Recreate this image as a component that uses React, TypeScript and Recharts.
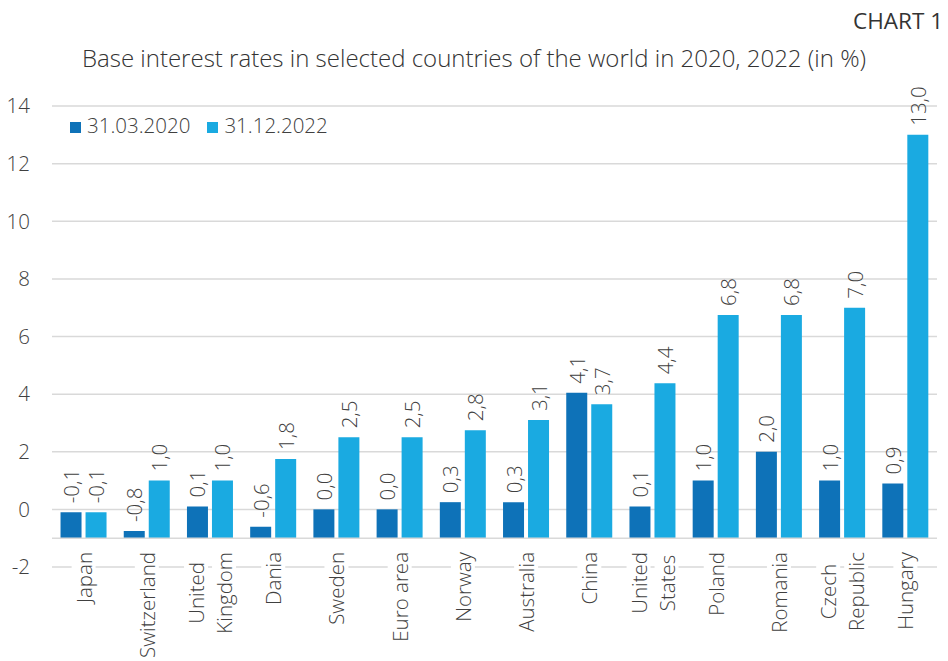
import { BarChart, Bar, XAxis, YAxis, CartesianGrid, LabelList, ReferenceLine } from 'recharts'

// Categories (multi-line labels split by \n)
const countries = [
  'Japan', 'Switzerland', 'United\nKingdom', 'Dania', 'Sweden', 'Euro area', 'Norway',
  'Australia', 'China', 'United\nStates', 'Poland', 'Romania', 'Czech\nRepublic', 'Hungary',
]
const rates2020 = [-0.1, -0.75, 0.1, -0.6, 0.0, 0.0, 0.25, 0.25, 4.05, 0.1, 1.0, 2.0, 1.0, 0.9]
const rates2022 = [-0.1, 1.0, 1.0, 1.75, 2.5, 2.5, 2.75, 3.1, 3.65, 4.375, 6.75, 6.75, 7.0, 13.0]
const yTicks = [-2, 0, 2, 4, 6, 8, 10, 12, 14]
const seriesNames = ['31.03.2020', '31.12.2022']

// bars in the original grow from the category axis, which sits at -1
const AXIS_BASE = -1

const DARK = '#0e72b8'
const LIGHT = '#1aaae1'
const TEXT = '#404040'
const FONT = "'Open Sans', sans-serif"
const W = 300
const FS = 20.5

const data = countries.map((name, i) => ({
  name,
  v2020: rates2020[i],
  v2022: rates2022[i],
}))

const fmt = (v: number) => {
  const s = Math.sign(v)
  const r = (Math.round(Math.abs(v) * 10 + 1e-9) / 10) * (s < 0 ? -1 : 1)
  return r.toFixed(1).replace('.', ',')
}

let ctx: CanvasRenderingContext2D | null = null
const measure = (t: string) => {
  if (!ctx) ctx = document.createElement('canvas').getContext('2d')
  if (!ctx) return t.length * 10
  ctx.font = `${W} ${FS}px ${FONT}`
  return ctx.measureText(t).width
}

const ValueLabel = (props: any) => {
  const { x, y, width, value } = props
  const cx = x + width / 2
  const ty = y - 9
  return (
    <text
      x={cx}
      y={ty}
      transform={`rotate(-90 ${cx} ${ty})`}
      textAnchor="start"
      dominantBaseline="central"
      fontSize={FS}
      fontWeight={W}
      fontFamily={FONT}
      fill={TEXT}
    >
      {fmt(value)}
    </text>
  )
}

const CategoryTick = (props: any) => {
  const { x, y, payload } = props
  const lines: string[] = String(payload.value).split('\n')
  const top = y - 23
  const lineGap = 28
  const maxW = Math.max(...lines.map(measure))
  const cy = top + maxW / 2
  return (
    <g>
      {lines.map((ln, i) => {
        const lx = x + (i - (lines.length - 1) / 2) * lineGap
        const w = measure(ln)
        return (
          <g key={i}>
            <rect x={lx - 12} y={cy - w / 2 - 4} width={24} height={w + 8} fill="#ffffff" />
            <text
              x={lx}
              y={cy}
              transform={`rotate(-90 ${lx} ${cy})`}
              textAnchor="middle"
              dominantBaseline="central"
              fontSize={FS}
              fontWeight={W}
              fontFamily={FONT}
              fill={TEXT}
            >
              {ln}
            </text>
          </g>
        )
      })}
    </g>
  )
}

const App = () => {
  return (
    <div style={{ position: 'absolute', left: 0, top: 0, width: 948, height: 661, background: '#fff', fontFamily: FONT }}>
      <div style={{ position: 'absolute', right: 5, top: 5, fontSize: 22.5, fontWeight: 400, color: '#333', lineHeight: 'normal' }}>
        CHART 1
      </div>
      <div
        style={{
          position: 'absolute', left: 0, width: 948, top: 41, textAlign: 'center',
          fontSize: 24, fontWeight: W, color: '#333', lineHeight: 'normal',
        }}
      >
        Base interest rates in selected countries of the world in 2020, 2022 (in %)
      </div>
      <div
        style={{
          position: 'absolute', left: 70, top: 111, display: 'flex', alignItems: 'center',
          fontSize: FS, fontWeight: W, color: TEXT, zIndex: 2, lineHeight: 'normal',
        }}
      >
        {seriesNames.map((n, i) => (
          <span key={n} style={{ display: 'flex', alignItems: 'center', marginRight: 17 }}>
            <span
              style={{
                width: 11, height: 11, background: i === 0 ? DARK : LIGHT,
                marginRight: 6, position: 'relative', top: 2,
              }}
            />
            {n}
          </span>
        ))}
      </div>
      <BarChart
        width={948}
        height={661}
        data={data}
        margin={{ top: 106, right: 11, left: 0, bottom: 0 }}
        barCategoryGap="13.5%"
        barGap={4}
      >
        <CartesianGrid vertical={false} stroke="#d9d9d9" strokeWidth={1.5} />
        <YAxis
          domain={[-2, 14]}
          ticks={yTicks}
          width={52}
          axisLine={false}
          tickLine={false}
          tickSize={0}
          tickMargin={22}
          tickFormatter={(v: number) => String(v)}
          tick={{ fontSize: FS, fontWeight: W, fontFamily: FONT, fill: TEXT }}
        />
        <XAxis
          dataKey="name"
          height={94}
          axisLine={false}
          tickLine={false}
          interval={0}
          tick={<CategoryTick />}
        />
        <ReferenceLine y={AXIS_BASE} stroke="#d9d9d9" strokeWidth={1.5} />
        <Bar dataKey={(d: any) => [AXIS_BASE, d.v2020]} fill={DARK} isAnimationActive={false}>
          <LabelList dataKey="v2020" content={<ValueLabel />} />
        </Bar>
        <Bar dataKey={(d: any) => [AXIS_BASE, d.v2022]} fill={LIGHT} isAnimationActive={false}>
          <LabelList dataKey="v2022" content={<ValueLabel />} />
        </Bar>
      </BarChart>
    </div>
  )
}

export default App
